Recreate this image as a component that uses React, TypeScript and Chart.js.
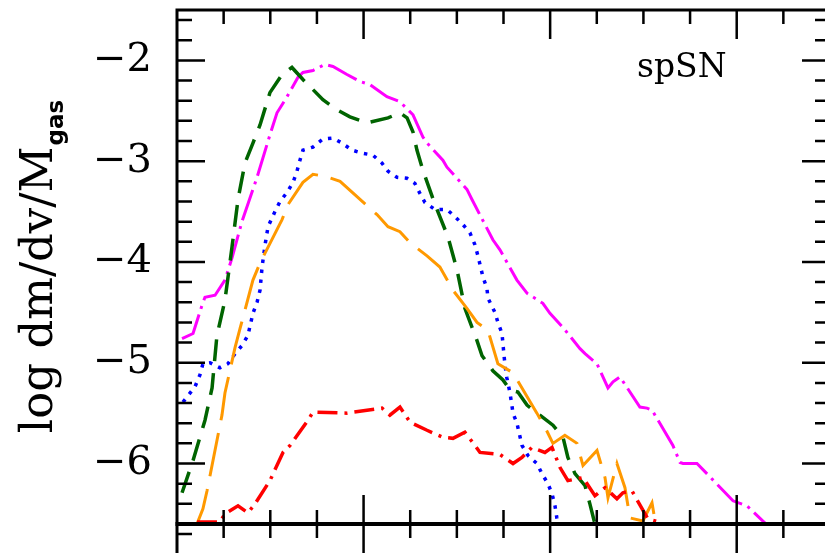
import React, { useEffect, useRef } from "react";
import { Chart, registerables } from "chart.js";

Chart.register(...registerables);

// Axis ranges and tick layout
const X_MIN = 0;
const X_MAX = 3.5;
const Y_MIN = -6.6;
const Y_MAX = -1.5;
const yTickValues = [-6, -5, -4, -3, -2];
const yMinorStep = 0.2;
const xMinorStep = 0.25;
const xMajorStep = 1;
const panelLabel = "spSN";
const yTitle = "log dm/dv/M";
const yTitleSub = "gas";

// Series: x = velocity, y = log dm/dv/M_gas
const magentaX = [0.027, 0.086, 0.134, 0.15, 0.204, 0.257, 0.295, 0.348, 0.429, 0.498, 0.536, 0.59, 0.648, 0.675, 0.729, 0.793, 0.836, 0.911, 0.981, 1.034, 1.125, 1.195, 1.265, 1.318, 1.34, 1.425, 1.447, 1.554, 1.581, 1.693, 1.731, 1.822, 1.876, 1.961, 1.999, 2.069, 2.16, 2.187, 2.251, 2.31, 2.337, 2.374, 2.481, 2.519, 2.546, 2.658, 2.696, 2.712, 2.787, 2.84, 2.98, 3.055, 3.151, 3.18];
const magentaY = [-4.76, -4.71, -4.43, -4.35, -4.33, -4.18, -3.96, -3.6, -3.16, -2.74, -2.52, -2.36, -2.17, -2.12, -2.1, -2.04, -2.06, -2.14, -2.21, -2.24, -2.36, -2.41, -2.54, -2.76, -2.82, -2.99, -3.06, -3.28, -3.38, -3.78, -3.88, -4.18, -4.31, -4.41, -4.51, -4.65, -4.86, -4.91, -5.01, -5.25, -5.19, -5.14, -5.44, -5.45, -5.47, -5.82, -5.99, -6.0, -6.0, -6.1, -6.37, -6.42, -6.59, -6.68];

const greenX = [0.027, 0.086, 0.15, 0.188, 0.214, 0.257, 0.295, 0.327, 0.364, 0.407, 0.445, 0.498, 0.563, 0.616, 0.675, 0.729, 0.782, 0.857, 0.927, 1.018, 1.131, 1.195, 1.233, 1.265, 1.286, 1.318, 1.383, 1.452, 1.501, 1.543, 1.608, 1.635, 1.693, 1.747, 1.785, 1.827, 1.876, 1.945, 2.015, 2.069, 2.095, 2.133, 2.187, 2.213, 2.24, 2.255];
const greenY = [-6.29, -5.97, -5.57, -5.25, -4.73, -4.38, -3.85, -3.38, -3.02, -2.82, -2.64, -2.32, -2.14, -2.07, -2.19, -2.29, -2.39, -2.49, -2.56, -2.62, -2.57, -2.52, -2.57, -2.71, -2.89, -3.09, -3.43, -3.75, -4.08, -4.46, -4.78, -4.93, -5.08, -5.17, -5.27, -5.29, -5.42, -5.52, -5.62, -5.74, -5.94, -6.1, -6.22, -6.4, -6.6, -6.7];

const blueX = [0.032, 0.096, 0.123, 0.139, 0.177, 0.23, 0.273, 0.311, 0.348, 0.38, 0.407, 0.429, 0.445, 0.456, 0.472, 0.488, 0.525, 0.552, 0.59, 0.622, 0.643, 0.659, 0.675, 0.729, 0.782, 0.836, 0.884, 0.938, 0.991, 1.05, 1.099, 1.131, 1.179, 1.233, 1.275, 1.302, 1.329, 1.383, 1.447, 1.49, 1.533, 1.57, 1.597, 1.613, 1.64, 1.661, 1.667, 1.704, 1.72, 1.742, 1.748, 1.754, 1.76, 1.768, 1.785, 1.801, 1.822, 1.849, 1.881, 1.929, 1.956, 1.988, 2.01, 2.026, 2.036, 2.047];
const blueY = [-5.39, -5.24, -5.12, -5.01, -5.0, -5.05, -5.01, -4.91, -4.83, -4.73, -4.51, -4.4, -4.28, -4.05, -3.83, -3.65, -3.5, -3.4, -3.31, -3.21, -3.1, -2.99, -2.89, -2.86, -2.78, -2.77, -2.82, -2.89, -2.92, -2.94, -3.02, -3.1, -3.16, -3.17, -3.22, -3.32, -3.41, -3.48, -3.48, -3.55, -3.63, -3.71, -3.83, -3.94, -4.15, -4.26, -4.36, -4.5, -4.6, -4.71, -4.83, -4.95, -5.05, -5.15, -5.3, -5.5, -5.6, -5.82, -5.92, -6.0, -6.1, -6.2, -6.3, -6.42, -6.54, -6.65];

const orangeX = [0.096, 0.107, 0.139, 0.161, 0.193, 0.241, 0.257, 0.311, 0.338, 0.407, 0.445, 0.563, 0.595, 0.675, 0.729, 0.793, 0.874, 1.072, 1.131, 1.195, 1.249, 1.34, 1.409, 1.479, 1.554, 1.608, 1.667, 1.72, 1.801, 1.929, 1.983, 2.015, 2.079, 2.144, 2.176, 2.251, 2.294, 2.31, 2.358, 2.401, 2.428, 2.497, 2.546, 2.567];
const orangeY = [-6.67, -6.6, -6.45, -6.27, -5.97, -5.52, -5.3, -4.85, -4.66, -4.18, -4.01, -3.58, -3.43, -3.21, -3.13, -3.15, -3.2, -3.53, -3.65, -3.7, -3.81, -3.94, -4.05, -4.28, -4.46, -4.6, -4.68, -5.01, -5.1, -5.5, -5.68, -5.8, -5.72, -5.8, -6.02, -5.87, -6.14, -6.34, -6.0, -6.24, -6.54, -6.57, -6.39, -6.62];

const redX = [0.107, 0.23, 0.257, 0.327, 0.38, 0.418, 0.498, 0.568, 0.606, 0.702, 0.729, 0.911, 1.099, 1.141, 1.195, 1.249, 1.34, 1.425, 1.479, 1.543, 1.597, 1.624, 1.731, 1.801, 1.849, 1.902, 1.972, 2.01, 2.053, 2.095, 2.176, 2.24, 2.294, 2.358, 2.39, 2.438, 2.524, 2.604];
const redY = [-6.58, -6.58, -6.5, -6.42, -6.49, -6.4, -6.17, -5.89, -5.82, -5.57, -5.49, -5.5, -5.45, -5.52, -5.44, -5.59, -5.67, -5.74, -5.75, -5.69, -5.82, -5.89, -5.91, -6.0, -5.94, -5.84, -5.89, -5.84, -6.04, -6.17, -6.14, -6.32, -6.24, -6.35, -6.29, -6.27, -6.55, -6.59];

const toPoints = (xs: number[], ys: number[]) => xs.map((x, i) => ({ x, y: ys[i] }));

const series = [
  { xs: redX, ys: redY, color: "#ff0000", dash: [20, 7, 3, 7], width: 3.5 },
  { xs: orangeX, ys: orangeY, color: "#ff9900", dash: [44, 13], width: 3 },
  { xs: blueX, ys: blueY, color: "#0000ff", dash: [3.5, 6.5], width: 3.5 },
  { xs: greenX, ys: greenY, color: "#006400", dash: [22, 12], width: 3.5 },
  { xs: magentaX, ys: magentaY, color: "#ff00ff", dash: [32, 6, 3, 6], width: 3 },
];

const SERIF = "'DejaVu Serif', serif";

// Frame with inward ticks on all four sides, the y title and the panel label
const framePlugin = {
  id: "frame",
  afterDraw(chart: any) {
    const { ctx, chartArea, scales } = chart;
    const { left, right, top, bottom } = chartArea;
    const xs = scales.x;
    const ys = scales.y;
    const H = chart.height;
    ctx.save();
    ctx.strokeStyle = "#000";
    ctx.lineCap = "butt";
    ctx.lineWidth = 2.5;
    ctx.beginPath();
    const kMin = Math.ceil(Y_MIN / yMinorStep - 1e-6);
    const kMax = Math.floor(Y_MAX / yMinorStep + 1e-6);
    for (let k = kMin; k <= kMax; k++) {
      const v = k * yMinorStep;
      const major = Math.abs(v - Math.round(v)) < 1e-6;
      const len = major ? 28 : 15;
      const py = ys.getPixelForValue(v);
      ctx.moveTo(left, py);
      ctx.lineTo(left + len, py);
      ctx.moveTo(right, py);
      ctx.lineTo(right - len, py);
      // the panel stacked underneath shares this frame; its upper ticks peek in below
      const pyBelow = bottom + (py - top);
      if (pyBelow > bottom + 2 && pyBelow < H) {
        ctx.moveTo(left, pyBelow);
        ctx.lineTo(left + len, pyBelow);
      }
    }
    const nx = Math.round((X_MAX - X_MIN) / xMinorStep);
    for (let i = 1; i < nx; i++) {
      const v = X_MIN + i * xMinorStep;
      const major = Math.abs(v / xMajorStep - Math.round(v / xMajorStep)) < 1e-6;
      const len = major ? 29 : 14;
      const px = xs.getPixelForValue(v);
      ctx.moveTo(px, top);
      ctx.lineTo(px, top + len);
      ctx.moveTo(px, bottom - len);
      ctx.lineTo(px, bottom + len);
    }
    ctx.stroke();

    ctx.lineWidth = 3;
    ctx.beginPath();
    ctx.moveTo(left - 1.5, top);
    ctx.lineTo(right + 1.5, top);
    ctx.moveTo(left, top);
    ctx.lineTo(left, H);
    ctx.moveTo(right, top);
    ctx.lineTo(right, bottom);
    ctx.stroke();
    ctx.lineWidth = 4;
    ctx.beginPath();
    ctx.moveTo(left - 1.5, bottom);
    ctx.lineTo(right + 1.5, bottom);
    ctx.stroke();

    ctx.fillStyle = "#000";
    ctx.textAlign = "left";
    ctx.textBaseline = "alphabetic";
    ctx.font = `33px ${SERIF}`;
    ctx.fillText(panelLabel, 637, 77);

    // rotated y title with a bold subscript
    const mainFont = `45px ${SERIF}`;
    const subFont = "bold 23px 'DejaVu Sans', sans-serif";
    ctx.translate(52, (top + bottom) / 2);
    ctx.rotate(-Math.PI / 2);
    ctx.font = mainFont;
    const w1 = ctx.measureText(yTitle).width;
    ctx.font = subFont;
    const w2 = ctx.measureText(yTitleSub).width;
    const start = -(w1 + w2) / 2;
    ctx.font = mainFont;
    ctx.fillText(yTitle, start, 0);
    ctx.font = subFont;
    ctx.fillText(yTitleSub, start + w1 + 1, 11);
    ctx.restore();
  },
};

export default function App() {
  const canvasRef = useRef<HTMLCanvasElement | null>(null);

  useEffect(() => {
    const canvas = canvasRef.current;
    if (!canvas) return;
    const chart = new Chart(canvas, {
      type: "line",
      data: {
        datasets: series.map((s) => ({
          data: toPoints(s.xs, s.ys),
          borderColor: s.color,
          backgroundColor: s.color,
          borderWidth: s.width,
          borderDash: s.dash,
          pointRadius: 0,
          tension: 0,
          fill: false,
        })),
      },
      options: {
        animation: false,
        responsive: false,
        devicePixelRatio: 1,
        events: [],
        layout: { padding: { left: 0, top: 10, right: 10, bottom: 29 } },
        plugins: { legend: { display: false }, tooltip: { enabled: false } },
        scales: {
          x: { type: "linear", min: X_MIN, max: X_MAX, display: false },
          y: {
            type: "linear",
            position: "left",
            min: Y_MIN,
            max: Y_MAX,
            grid: { display: false, drawTicks: false },
            border: { display: false },
            ticks: {
              color: "#000",
              padding: 25,
              font: { family: SERIF, size: 40 },
              callback: (v: any) => (Number(v) < 0 ? "\u2212" : "") + Math.abs(Number(v)),
            },
            afterBuildTicks: (axis: any) => {
              axis.ticks = yTickValues.map((value) => ({ value }));
            },
            afterFit: (axis: any) => {
              axis.width = 177;
              axis.paddingTop = 0;
              axis.paddingBottom = 0;
            },
          },
        },
      },
      plugins: [framePlugin],
    });
    return () => chart.destroy();
  }, []);

  return (
    <div
      style={{
        position: "absolute",
        left: 0,
        top: 0,
        width: 825,
        height: 553,
        overflow: "hidden",
        background: "#fff",
      }}
    >
      <canvas ref={canvasRef} width={840} height={553} style={{ display: "block", width: 840, height: 553 }} />
    </div>
  );
}
